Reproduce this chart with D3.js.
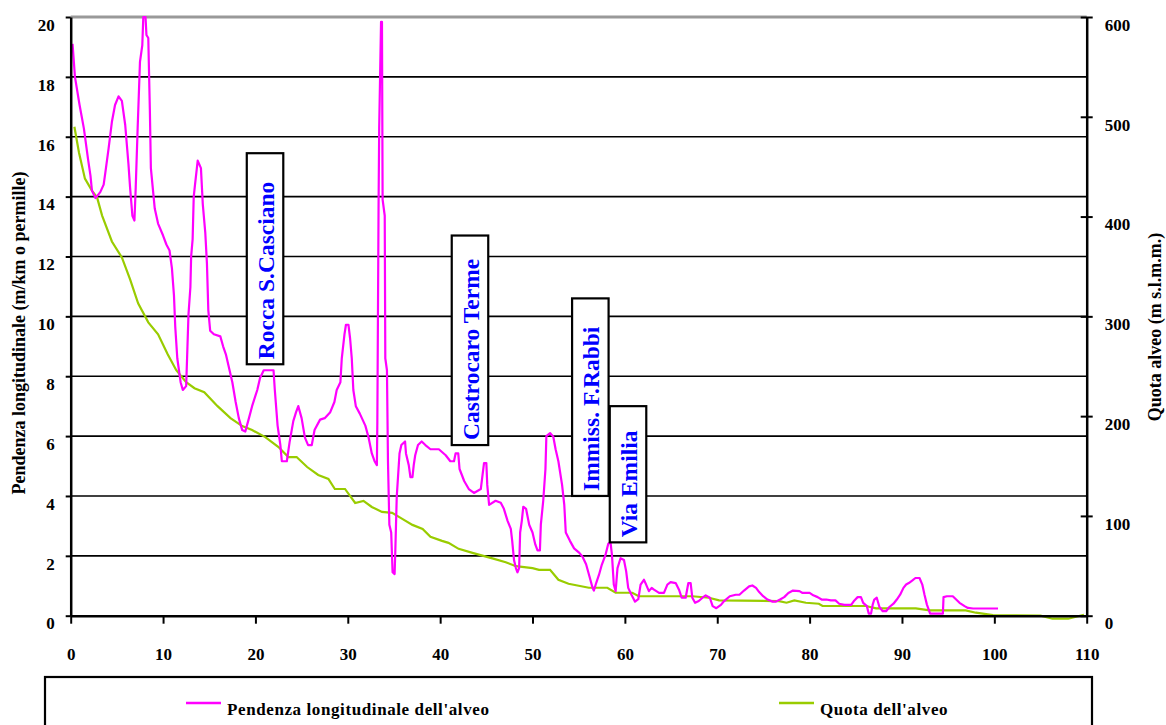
<!DOCTYPE html>
<html>
<head>
<meta charset="utf-8">
<script src="https://cdn.jsdelivr.net/npm/d3@7"></script>
<style>
  body { margin: 0; background: #fff; }
  svg text { font-family: "Liberation Serif", "Times New Roman", serif; font-weight: bold; }
</style>
</head>
<body>
<div id="chart"></div>
<script>
// pendenza longitudinale (m/km) - progressiva in km
var pendKm = [0.2,0.46,0.96,1.43,1.9,2.14,2.3,2.68,3.2,3.57,3.75,4.1,4.46,4.8,5.18,5.54,5.9,6.25,6.43,6.68,6.9,7.04,7.25,7.5,7.75,7.86,8.1,8.2,8.4,8.57,8.68,9.1,9.46,10.0,10.36,10.7,10.96,11.18,11.32,11.54,11.9,12.14,12.5,12.6,12.75,12.96,13.04,13.2,13.32,13.46,13.75,14.1,14.3,14.57,14.75,14.9,15.1,15.5,16.2,16.5,16.8,17.1,17.5,17.86,18.2,18.57,18.9,19.3,19.64,20.2,20.5,20.9,21.96,22.1,22.4,22.7,22.86,23.4,23.7,24.1,24.4,24.64,25.0,25.36,25.7,26.1,26.4,27.0,27.5,28.1,28.55,28.8,29.2,29.35,29.64,29.8,30.07,30.25,30.43,30.6,30.87,31.3,31.9,32.25,32.6,32.9,33.15,33.2,33.33,33.4,33.6,33.7,33.77,34.0,34.06,34.24,34.35,34.5,34.7,34.85,35.07,35.14,35.3,35.6,35.8,36.2,36.3,36.6,36.78,37.0,37.14,37.3,37.6,38.0,38.4,38.95,39.86,40.6,41.1,41.5,41.67,41.96,42.1,42.6,43.1,43.66,44.4,44.56,44.75,45.0,45.1,45.3,46.0,46.56,46.9,47.3,47.65,47.8,48.0,48.2,48.37,48.55,48.66,48.84,49.0,49.3,49.64,50.0,50.3,50.54,50.8,50.9,51.16,51.4,51.5,51.9,52.25,52.5,52.8,53.2,53.44,53.6,54.05,54.5,55.07,55.4,55.8,56.16,56.5,56.64,56.9,57.2,57.5,57.9,58.2,58.44,58.6,58.8,59.0,59.2,59.53,59.9,60.14,60.36,60.7,61.1,61.45,61.7,62.06,62.3,62.6,62.9,63.15,63.7,64.23,64.6,64.95,65.5,65.86,66.15,66.58,66.87,67.12,67.3,67.6,68.0,68.4,68.75,69.2,69.5,69.9,70.4,70.74,71.36,72.0,72.4,72.9,73.45,73.8,74.2,74.54,74.97,75.44,76.0,76.35,76.8,77.25,77.7,78.2,78.9,79.24,80.0,80.4,80.87,81.3,81.8,82.3,82.8,83.2,83.76,84.5,84.85,85.2,85.56,85.8,86.2,86.4,86.65,86.84,87.0,87.27,87.56,87.92,88.28,88.64,89.08,89.44,89.8,90.16,90.45,90.74,91.1,91.46,91.9,92.2,92.44,92.7,93.05,94.43,94.5,94.86,95.5,95.87,96.23,96.78,97.14,97.7,100.4];
var pendVal = [19.1,18.0,17.06,16.27,15.2,14.7,14.2,13.95,14.15,14.4,14.8,15.6,16.5,17.06,17.35,17.2,16.4,15.1,14.3,13.36,13.2,14.3,16.3,18.5,19.05,20,20,19.4,19.3,16.9,14.95,13.6,13.1,12.7,12.4,12.2,11.6,10.7,9.65,8.6,7.8,7.54,7.67,8.6,10.05,10.98,12.0,12.57,14.0,14.4,15.2,14.95,13.75,12.8,11.77,10.2,9.52,9.4,9.33,9.0,8.73,8.33,7.8,7.14,6.6,6.2,6.15,6.6,7.0,7.54,7.94,8.2,8.2,7.54,6.35,5.7,5.16,5.16,5.8,6.5,6.8,7.0,6.6,5.95,5.7,5.7,6.2,6.55,6.6,6.8,7.14,7.54,7.8,8.6,9.4,9.72,9.72,9.26,8.6,7.54,7.0,6.75,6.35,5.95,5.42,5.16,5.03,6.48,13.6,16.3,19.84,19.84,13.9,13.36,8.6,8.2,5.16,3.04,2.78,1.45,1.39,2.1,3.97,5.42,5.7,5.82,5.42,5.03,4.63,4.63,5.03,5.36,5.7,5.82,5.7,5.56,5.56,5.36,5.16,5.16,5.42,5.42,4.9,4.5,4.23,4.1,4.23,4.63,5.1,5.1,4.37,3.7,3.84,3.77,3.57,3.17,2.9,2.5,1.85,1.59,1.45,1.59,2.78,3.17,3.64,3.57,3.04,2.78,2.38,2.18,2.18,3.04,3.84,4.9,6.0,6.1,5.98,5.56,5.16,4.37,3.7,2.78,2.5,2.25,2.1,1.98,1.72,1.32,0.93,0.84,1.1,1.37,1.7,2.03,2.4,2.47,2.03,1.04,0.82,1.59,1.92,1.86,1.48,0.93,0.71,0.47,0.55,1.04,1.2,1.04,0.82,0.93,0.87,0.76,0.76,1.04,1.12,1.09,0.87,0.6,0.6,1.09,1.09,0.6,0.43,0.49,0.6,0.68,0.6,0.32,0.25,0.36,0.49,0.65,0.7,0.7,0.84,0.98,1.01,0.93,0.79,0.65,0.54,0.47,0.47,0.54,0.62,0.76,0.84,0.82,0.76,0.76,0.68,0.62,0.54,0.54,0.51,0.51,0.4,0.36,0.36,0.51,0.62,0.62,0.43,0.32,0.07,0.07,0.38,0.54,0.6,0.29,0.15,0.15,0.29,0.4,0.54,0.7,0.93,1.04,1.09,1.17,1.26,1.26,1.04,0.7,0.37,0.07,0.07,0.62,0.65,0.65,0.54,0.43,0.32,0.26,0.24,0.24];

// quota dell'alveo (m s.l.m.m.)
var quotaKm = [0.4,0.9,1.54,2.3,2.86,3.4,4.46,5.54,6.43,7.3,8.4,9.46,10.5,11.43,12.5,13.4,14.46,15.9,17.3,18.57,19.64,21.07,22.5,23.57,24.46,25.6,26.8,27.9,28.6,29.7,30.8,31.7,32.6,33.7,34.8,35.9,37.0,38.1,38.95,40.2,40.9,42.0,43.5,45.65,47.1,48.2,50.0,50.7,51.9,52.8,53.9,56.1,58.1,59.0,60.8,61.5,67.3,69.1,70.2,76.7,77.5,78.35,79.6,81.0,81.4,86.1,87.2,91.5,93.0,96.9,98.0,99.85,105.0,106.3,108.0,109.7];
var quotaVal = [490,464,438,426,419,401,375,359,337,313,294,282,262,246,234,228,224,210,198,190,186,179,169,159,159,149,141,137,127,127,113,115,109,104,103,97,91,87,79,75,73,67,63,57.5,53.6,49.6,47.6,46,46,36,32,28,28,23,23,19.5,19.5,18,15.3,14.6,13,15.3,13,12,9.7,9.7,7.3,7.3,5.3,5.3,3,0.5,0,-3,-3,1];

// etichette località
var placeNames = ["Rocca S.Casciano", "Castrocaro Terme", "Immiss. F.Rabbi", "Via Emilia"];
var placeKm = [21.04, 43.23, 56.26, 60.34];
var placeTop = [15.45, 12.7, 10.6, 7.0];
var placeBottom = [8.4, 5.7, 4.0, 2.45];

var xTicks = d3.range(0, 111, 10);
var yLeftTicks = d3.range(0, 21, 2);
var yRightTicks = d3.range(0, 601, 100);

var width = 1166, height = 725;
var plotLeft = 70.7, plotRight = 1086.7, plotTop = 17, plotBottom = 615.7;

var svg = d3.select("#chart").append("svg")
    .attr("width", width)
    .attr("height", height);

var x = d3.scaleLinear().domain([0, 110]).range([plotLeft, plotRight]);
var yL = d3.scaleLinear().domain([0, 20]).range([plotBottom, plotTop]);
var yR = d3.scaleLinear().domain([0, 600]).range([plotBottom, plotTop]);

// grid
svg.append("g").selectAll("line")
  .data(yLeftTicks.filter(function(d) { return d > 0; }))
  .enter().append("line")
    .attr("x1", plotLeft).attr("x2", plotRight)
    .attr("y1", function(d) { return yL(d); })
    .attr("y2", function(d) { return yL(d); })
    .attr("stroke", function(d) { return d == 20 ? "#999" : "#000"; })
    .attr("stroke-width", function(d) { return d == 20 ? 3 : 1.6; });

// lines
var pendData = pendKm.map(function(k, i) { return [k, pendVal[i]]; });
var quotaData = quotaKm.map(function(k, i) { return [k, quotaVal[i]]; });

svg.append("path")
    .datum(quotaData)
    .attr("fill", "none")
    .attr("stroke", "#99cc00")
    .attr("stroke-width", 2.2)
    .attr("d", d3.line().x(function(d) { return x(d[0]); }).y(function(d) { return yR(d[1]); }));

svg.append("path")
    .datum(pendData)
    .attr("fill", "none")
    .attr("stroke", "#ff00ff")
    .attr("stroke-width", 2.2)
    .attr("stroke-linejoin", "round")
    .attr("d", d3.line().x(function(d) { return x(d[0]); }).y(function(d) { return yL(d[1]); }));

// axes
var axL = svg.append("g")
    .attr("transform", "translate(" + plotLeft + ",0)")
    .call(d3.axisLeft(yL).tickValues(yLeftTicks).tickSizeInner(5).tickSizeOuter(0).tickPadding(11));
axL.selectAll("text").attr("dy", "0.78em").attr("font-size", "17px");

var axR = svg.append("g")
    .attr("transform", "translate(" + plotRight + ",0)")
    .call(d3.axisRight(yR).tickValues(yRightTicks).tickSizeInner(6).tickSizeOuter(0).tickPadding(12));
axR.selectAll("line").attr("x1", -6);
axR.selectAll("text").attr("dy", "0.78em").attr("font-size", "17px");

var axB = svg.append("g")
    .attr("transform", "translate(0," + plotBottom + ")")
    .call(d3.axisBottom(x).tickValues(xTicks).tickSizeInner(8).tickSizeOuter(0).tickPadding(24));
axB.selectAll("text").attr("font-size", "17px");

svg.selectAll(".domain").attr("stroke", "#000").attr("stroke-width", 2.5);
svg.selectAll(".tick line").attr("stroke", "#000").attr("stroke-width", 2);
svg.selectAll(".tick text").attr("fill", "#000").attr("font-family", "Liberation Serif, Times New Roman, serif");

// axis titles
svg.append("text")
    .attr("transform", "translate(25,333) rotate(-90)")
    .attr("text-anchor", "middle")
    .attr("font-size", "18px")
    .text("Pendenza longitudinale (m/km o permille)");

svg.append("text")
    .attr("transform", "translate(1161,327) rotate(-90)")
    .attr("text-anchor", "middle")
    .attr("font-size", "18px")
    .text("Quota alveo (m s.l.m.m.)");

// place labels
var boxW = 36.5;
var places = svg.append("g").selectAll("g")
  .data(placeNames)
  .enter().append("g");

places.append("rect")
    .attr("x", function(d, i) { return x(placeKm[i]) - boxW / 2; })
    .attr("y", function(d, i) { return yL(placeTop[i]); })
    .attr("width", boxW)
    .attr("height", function(d, i) { return yL(placeBottom[i]) - yL(placeTop[i]); })
    .attr("fill", "#fff")
    .attr("stroke", "#000")
    .attr("stroke-width", 2.2);

places.append("text")
    .attr("transform", function(d, i) {
      return "translate(" + (x(placeKm[i]) + 9) + "," + (yL(placeBottom[i]) - 5) + ") rotate(-90)";
    })
    .attr("font-size", "23.5px")
    .attr("fill", "#0000ff")
    .text(function(d) { return d; });

// legend
var legend = svg.append("g");
legend.append("rect")
    .attr("x", 45).attr("y", 677)
    .attr("width", 1047).attr("height", 70)
    .attr("fill", "#fff")
    .attr("stroke", "#000")
    .attr("stroke-width", 2.2);

var legendItems = [
  { label: "Pendenza longitudinale dell'alveo", color: "#ff00ff", x: 186 },
  { label: "Quota dell'alveo", color: "#99cc00", x: 779 }
];

legendItems.forEach(function(item) {
  legend.append("line")
      .attr("x1", item.x).attr("x2", item.x + 35)
      .attr("y1", 703).attr("y2", 703)
      .attr("stroke", item.color)
      .attr("stroke-width", 2.5);
  legend.append("text")
      .attr("x", item.x + 41)
      .attr("y", 715)
      .attr("font-size", "17px")
      .attr("letter-spacing", "0.6px")
      .text(item.label);
});
</script>
</body>
</html>
